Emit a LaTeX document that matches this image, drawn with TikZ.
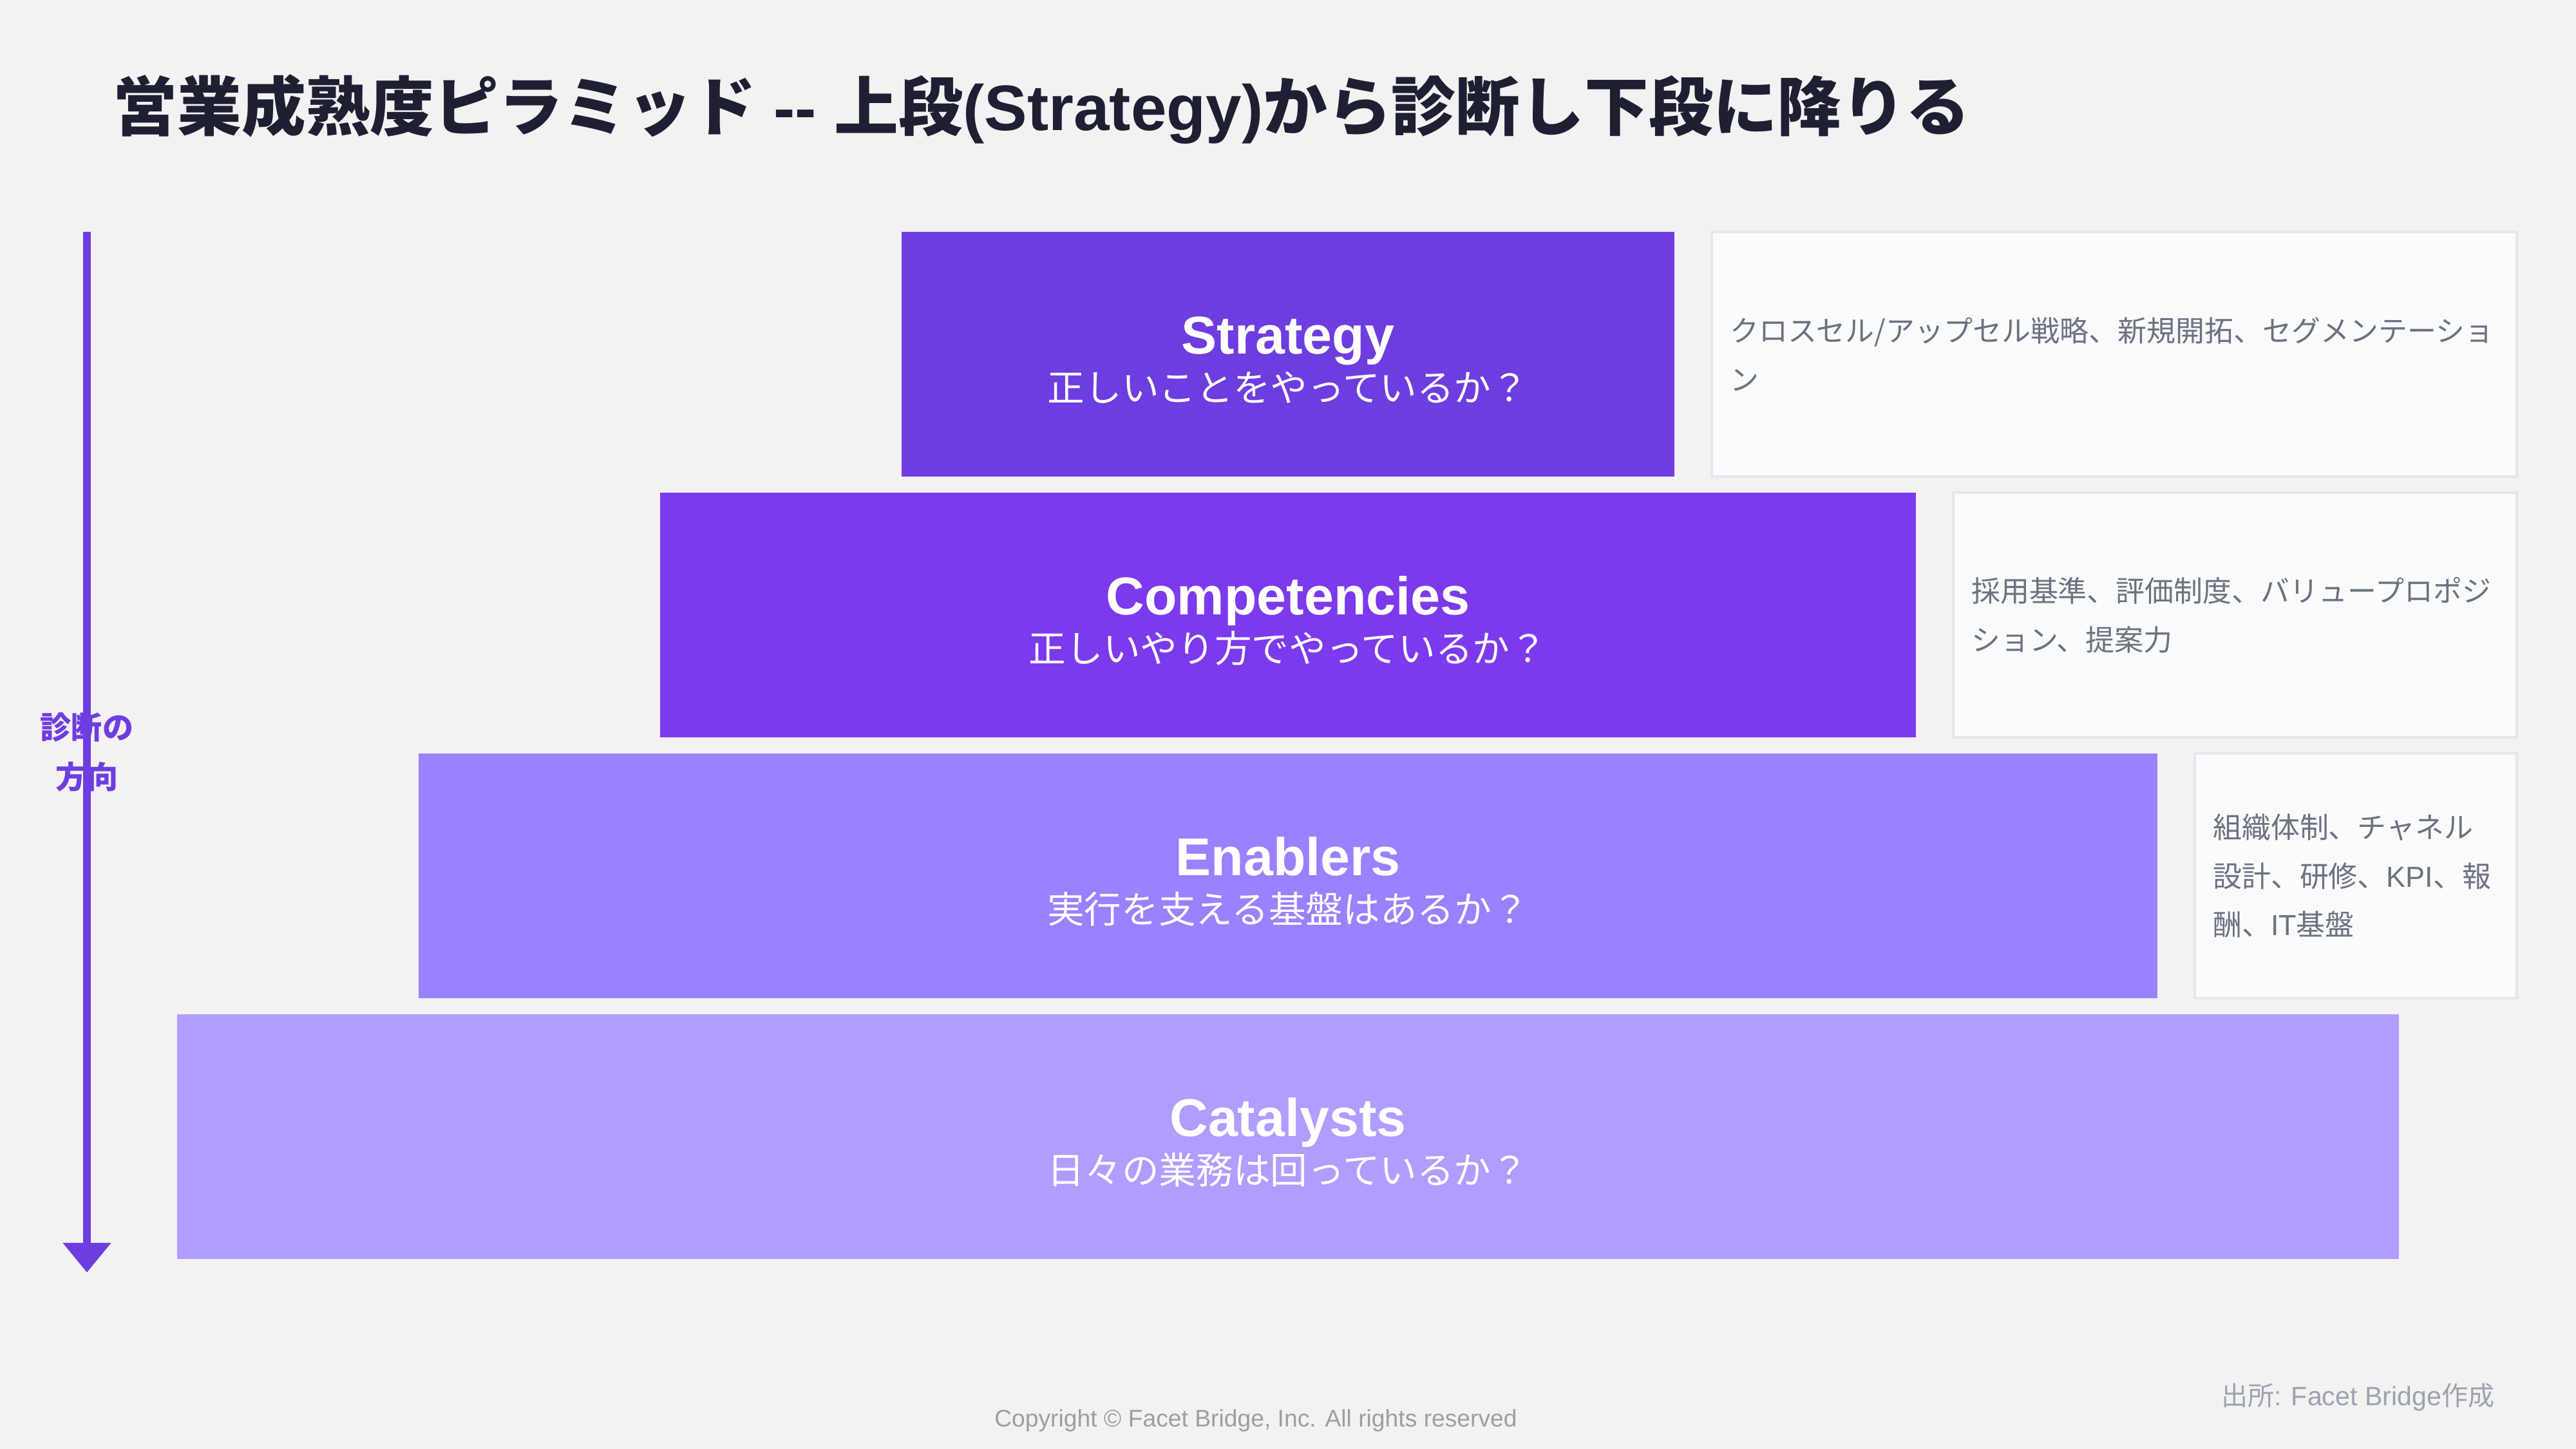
\documentclass[tikz,border=0pt]{standalone}
\usepackage{fontspec}
\setmainfont{Liberation Sans}
\newfontfamily\cjk{Noto Sans CJK JP}
\usetikzlibrary{positioning,arrows.meta}

\definecolor{bgcol}{HTML}{F2F2F2}
\definecolor{titlecol}{HTML}{1F1F33}
\definecolor{strategycol}{HTML}{6D3DE0}
\definecolor{compcol}{HTML}{7C3AED}
\definecolor{enablercol}{HTML}{9B80FF}
\definecolor{catalystcol}{HTML}{B19CFF}
\definecolor{notefill}{HTML}{FAFBFC}
\definecolor{notedraw}{HTML}{E5E7EB}
\definecolor{notetext}{HTML}{6B7280}
\definecolor{footcol}{HTML}{9E9E9E}
\definecolor{sourcecol}{HTML}{9CA3AF}

\begin{document}
\begin{tikzpicture}[
        tier/.style={inner sep=0pt, outer sep=0pt, minimum height=3.8cm},
        tier_name/.style={anchor=base, inner sep=0pt, text=white, font=\fontsize{23.5pt}{28pt}\selectfont\bfseries},
        tier_question/.style={anchor=base, inner sep=0pt, text=white, font=\fontsize{16.4pt}{20pt}\selectfont\cjk},
        note/.style={draw=notedraw, line width=1pt, fill=notefill, inner xsep=0.28cm, inner ysep=0pt, outer sep=0pt,
                     minimum height=3.8cm, align=left, text=notetext, font=\fontsize{12.8pt}{21.6pt}\selectfont\cjk},
        dir_arrow/.style={-{Triangle[width=0.72cm, length=0.46cm]}, line width=3.4pt, draw=strategycol}
    ]

    % --- Canvas ---
    \fill[bgcol] (0,0) rectangle (40,22.5);
    \useasboundingbox (0,0) rectangle (40,22.5);

    % --- Title ---
    \node[anchor=base west, inner sep=0pt, text=titlecol, font=\fontsize{28.4pt}{34pt}\selectfont\bfseries] (title) at (1.75,20.47)
        {{\cjk 営業成熟度ピラミッド} -{}- {\cjk 上段}(Strategy){\cjk から診断し下段に降りる}};

    % --- 1. Pyramid tiers ---
    \node[tier, fill=strategycol, minimum width=12cm]   (strategy)     at (20,17.0) {};
    \node[tier, fill=compcol, minimum width=19.5cm]     (competencies) at (20,12.95) {};
    \node[tier, fill=enablercol, minimum width=27cm]    (enablers)     at (20,8.9) {};
    \node[tier, fill=catalystcol, minimum width=34.5cm] (catalysts)    at (20,4.85) {};

    \node[tier_name] (strategy_name) at (strategy.center) {Strategy};
    \node[tier_question] (strategy_q) at ([yshift=-0.74cm]strategy.center) {正しいことをやっているか？};

    \node[tier_name] (competencies_name) at (competencies.center) {Competencies};
    \node[tier_question] (competencies_q) at ([yshift=-0.74cm]competencies.center) {正しいやり方でやっているか？};

    \node[tier_name] (enablers_name) at (enablers.center) {Enablers};
    \node[tier_question] (enablers_q) at ([yshift=-0.74cm]enablers.center) {実行を支える基盤はあるか？};

    \node[tier_name] (catalysts_name) at (catalysts.center) {Catalysts};
    \node[tier_question] (catalysts_q) at ([yshift=-0.74cm]catalysts.center) {日々の業務は回っているか？};

    % --- 2. Notes ---
    \node[note, text width=11.94cm, right=0.58cm of strategy] (strategy_note)
        {クロスセル/アップセル戦略、新規開拓、セグメンテーショ\\ン};
    \node[note, text width=8.19cm, right=0.58cm of competencies] (competencies_note)
        {採用基準、評価制度、バリュープロポジ\\ション、提案力};
    \node[note, text width=4.44cm, right=0.58cm of enablers] (enablers_note)
        {組織体制、チャネル\\設計、研修、{\rmfamily KPI}、報\\酬、{\rmfamily IT}基盤};

    % --- 3. Direction arrow ---
    \node[text=strategycol, align=center, font=\fontsize{13.7pt}{21.9pt}\selectfont\cjk\bfseries] (dir_label) at (1.35,10.82)
        {診断の\\方向};
    \coordinate (dir_top) at (1.35,18.9);
    \coordinate (dir_end) at (1.35,2.74);
    \draw[dir_arrow] (dir_top) -- (dir_end);

    % --- Footer ---
    \node[anchor=base, inner sep=0pt, text=footcol, font=\fontsize{10.6pt}{12pt}\selectfont] (copyright) at (19.5,0.34)
        {Copyright © Facet Bridge, Inc. All rights reserved};
    \node[anchor=base east, inner sep=0pt, text=sourcecol, font=\fontsize{11.7pt}{14pt}\selectfont] (source) at (38.74,0.67)
        {{\cjk 出所}: Facet Bridge{\cjk 作成}};

\end{tikzpicture}
\end{document}
